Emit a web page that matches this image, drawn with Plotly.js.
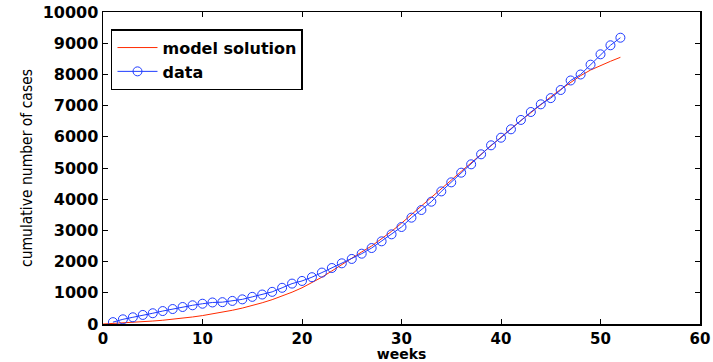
<!DOCTYPE html>
<html>
<head>
<meta charset="utf-8">
<script src="https://cdn.plot.ly/plotly-3.0.1.min.js"></script>
<style>html,body{margin:0;padding:0;background:#fff;}#chart{width:713px;height:362px;}</style>
</head>
<body>
<div id="chart"></div>
<script>
// Model solution (weeks 0..52)
const modelWeeks = [0,1,2,3,4,5,6,7,8,9,10,11,12,13,14,15,16,17,18,19,20,21,22,23,24,25,26,27,28,29,30,31,32,33,34,35,36,37,38,39,40,41,42,43,44,45,46,47,48,49,50,51,52];
const modelCases = [0,15,30,50,70,95,120,150,185,225,270,320,375,440,510,590,680,780,890,1020,1160,1320,1500,1700,1910,2110,2310,2500,2730,2970,3230,3500,3770,4050,4330,4610,4890,5170,5450,5720,5990,6260,6520,6780,7030,7280,7520,7750,7960,8140,8290,8420,8548];
// Observed data (weeks 1..52)
const dataWeeks = [1,2,3,4,5,6,7,8,9,10,11,12,13,14,15,16,17,18,19,20,21,22,23,24,25,26,27,28,29,30,31,32,33,34,35,36,37,38,39,40,41,42,43,44,45,46,47,48,49,50,51,52];
const dataCases = [60,150,215,290,345,415,480,545,600,650,690,700,740,790,870,945,1030,1160,1295,1380,1500,1648,1795,1945,2085,2254,2435,2650,2874,3109,3408,3654,3920,4250,4540,4850,5118,5439,5727,5971,6240,6540,6795,7041,7240,7500,7805,7997,8312,8644,8933,9176];
const xTicks = [0,10,20,30,40,50,60];
const yTicks = [0,1000,2000,3000,4000,5000,6000,7000,8000,9000,10000];

const boldFont = (s) => ({family:'"DejaVu Sans", sans-serif', size:s, color:'#000', weight:'bold'});

const traces = [
  {x: modelWeeks, y: modelCases, mode:'lines', name:'model solution',
   line:{color:'#ff2a00', width:1}},
  {x: dataWeeks, y: dataCases, mode:'lines+markers', name:'data',
   line:{color:'#1f3cff', width:1},
   marker:{symbol:'circle-open', size:9, color:'#1f3cff', line:{width:1, color:'#1f3cff'}}}
];

const layout = {
  width:713, height:362,
  margin:{l:103, r:13, t:12, b:38},
  paper_bgcolor:'#fff', plot_bgcolor:'#fff',
  showlegend:true,
  legend:{x:0.0134, y:0.945, xanchor:'left', yanchor:'top',
    bgcolor:'#fff', bordercolor:'#000', borderwidth:1.5,
    font:boldFont(16), tracegroupgap:0, itemwidth:40},
  xaxis:{range:[0,60], tickvals:xTicks, ticktext:xTicks.map(String),
    showgrid:false, zeroline:false, showline:true, linecolor:'#000', linewidth:1.5,
    mirror:'ticks', ticks:'inside', ticklen:5, tickwidth:1, tickcolor:'#000',
    tickfont:boldFont(15), automargin:false, ticklabelstandoff:0,
    title:{text:'weeks', font:boldFont(14), standoff:2}},
  yaxis:{range:[0,10000], tickvals:yTicks, ticktext:yTicks.map(String),
    showgrid:false, zeroline:false, showline:true, linecolor:'#000', linewidth:1.5,
    mirror:'ticks', ticks:'inside', ticklen:5, tickwidth:1, tickcolor:'#000',
    tickfont:boldFont(16), automargin:false,
    title:{text:'cumulative number of cases', font:{family:'"DejaVu Sans Condensed", sans-serif', size:15.5, color:'#000'}, standoff:6}}
};

Plotly.newPlot('chart', traces, layout, {displayModeBar:false, staticPlot:true});
</script>
</body>
</html>
